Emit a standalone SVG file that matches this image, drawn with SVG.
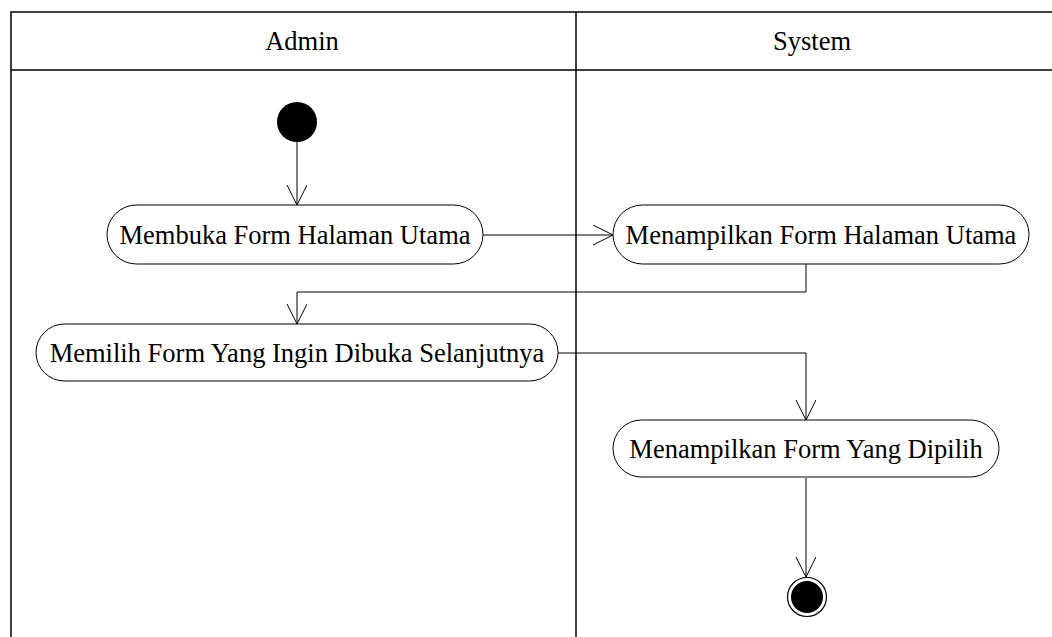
<svg xmlns="http://www.w3.org/2000/svg" width="1052" height="637" viewBox="0 0 1052 637">
<defs>
<style>
.lane{fill:none;stroke:#000;stroke-width:1.5}
.act{fill:#fff;stroke:#000;stroke-width:1}
.t{font-family:"Liberation Serif","Times New Roman",serif;font-size:26.5px;fill:#000;text-anchor:middle}
.c{fill:none;stroke:#000;stroke-width:1}
</style>
<marker id="arr" markerWidth="24" markerHeight="24" refX="20" refY="10" orient="auto" markerUnits="userSpaceOnUse">
<path d="M0,0 L20,10 L0,20" fill="none" stroke="#000" stroke-width="1"/>
</marker>
</defs>
<rect width="1052" height="637" fill="#fff"/>
<g id="swimlanes">
<path class="lane" d="M11,637 V12 H1060 M11,70 H1060 M576,12 V637"/>
<text class="t" x="302" y="50">Admin</text>
<text class="t" x="812" y="50">System</text>
</g>
<g id="connectors">
<path class="c" d="M297,123 V205" marker-end="url(#arr)"/>
<path class="c" d="M483,235 H613" marker-end="url(#arr)"/>
<path class="c" d="M806,264 V292 H297 V324" marker-end="url(#arr)"/>
<path class="c" d="M558,353 H806 V420" marker-end="url(#arr)"/>
<path class="c" d="M806,478 V577" marker-end="url(#arr)"/>
</g>
<g id="start"><circle cx="297" cy="122" r="20" fill="#000"/></g>
<g id="a1"><rect class="act" x="107" y="205" width="376" height="59" rx="29.5"/><text class="t" x="295" y="244">Membuka Form Halaman Utama</text></g>
<g id="a2"><rect class="act" x="613" y="205" width="416" height="59" rx="29.5"/><text class="t" x="821" y="244">Menampilkan Form Halaman Utama</text></g>
<g id="a3"><rect class="act" x="36" y="324" width="522" height="57" rx="28.5"/><text class="t" x="297" y="362">Memilih Form Yang Ingin Dibuka Selanjutnya</text></g>
<g id="a4"><rect class="act" x="613" y="420" width="386" height="57" rx="28.5"/><text class="t" x="806" y="458">Menampilkan Form Yang Dipilih</text></g>
<g id="end"><circle cx="807" cy="597" r="19.5" fill="#fff" stroke="#000" stroke-width="1.2"/><circle cx="807" cy="597" r="16" fill="#000"/></g>
</svg>
